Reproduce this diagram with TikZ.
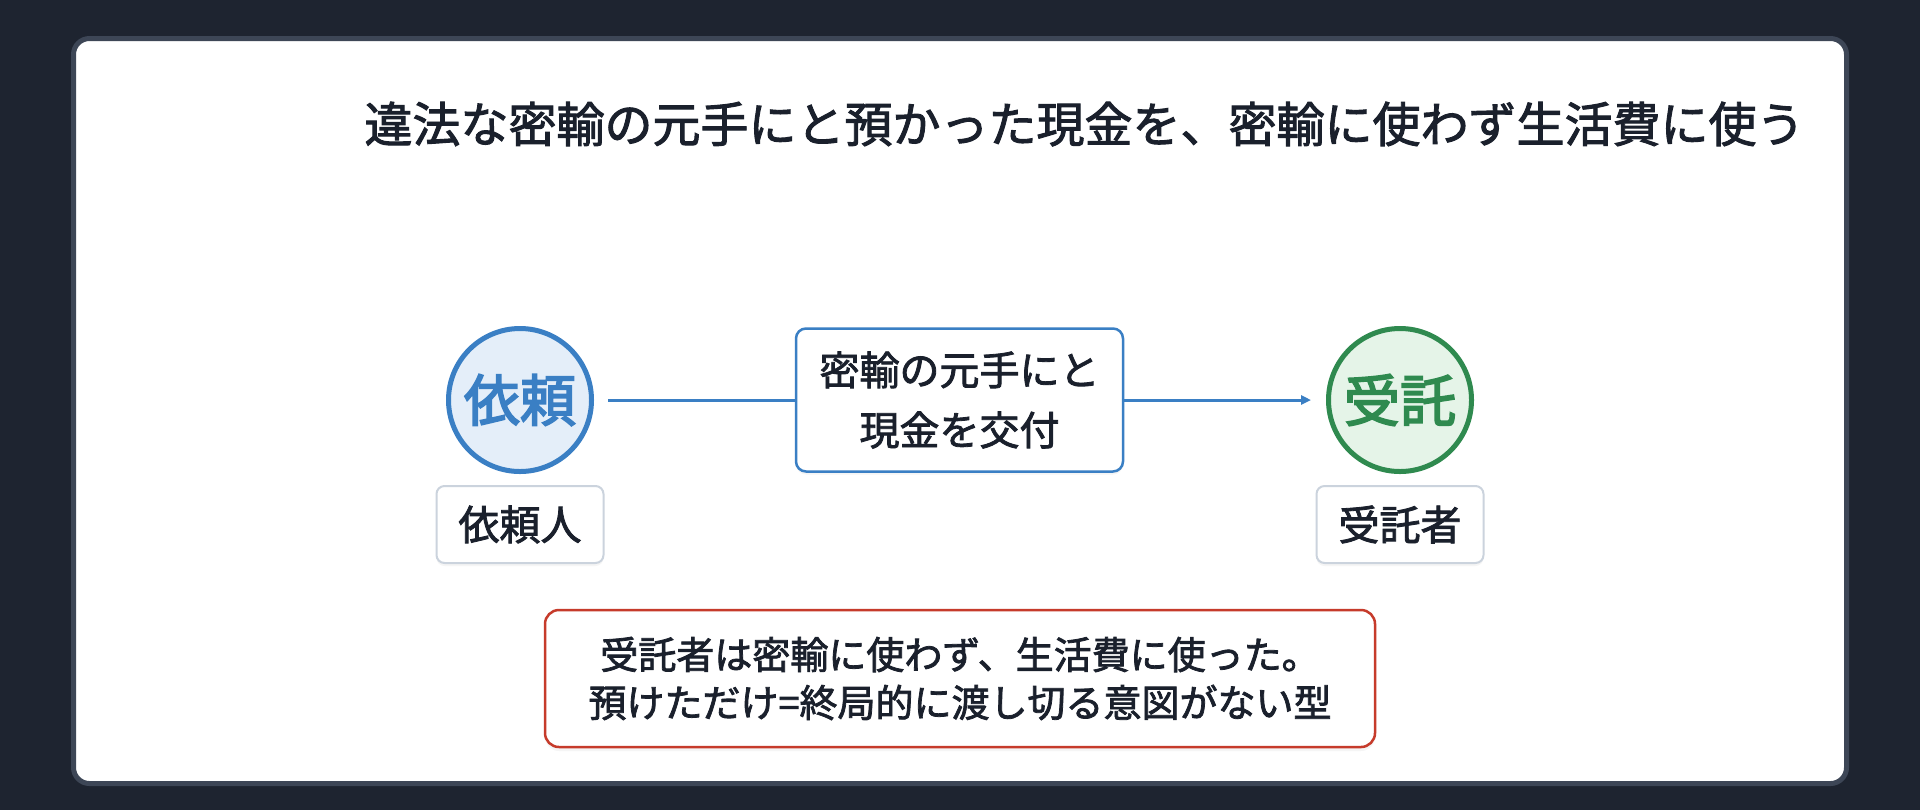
\documentclass[tikz,border=0pt]{standalone}
\usepackage{fontspec}
\setmainfont{Noto Sans CJK JP}[FakeBold=2]
\newfontfamily\partyfont{Noto Sans CJK JP}[FakeBold=3]
\usepackage{xcolor}
\usepackage{tikz}
\usetikzlibrary{arrows.meta,positioning,shadows}

\definecolor{bgdark}{HTML}{1E2430}
\definecolor{cardline}{HTML}{3D4656}
\definecolor{inkdark}{HTML}{1A202C}
\definecolor{clientblue}{HTML}{3A7FC4}
\definecolor{clientfill}{HTML}{E4EEF9}
\definecolor{trustgreen}{HTML}{2F8A4F}
\definecolor{trustfill}{HTML}{E5F4E8}
\definecolor{notered}{HTML}{C63B2B}
\definecolor{tagline}{HTML}{CBD3DD}

\begin{document}
\begin{tikzpicture}[x=0.5pt,y=-0.5pt,
	party/.style={circle,line width=2.5pt,minimum size=71.5pt,inner sep=0pt,
		font=\partyfont\fontsize{28}{30}\selectfont},
	tag/.style={draw=tagline,line width=1pt,fill=white,rounded corners=4pt,
		minimum width=83.5pt,minimum height=38.5pt,text=inkdark,
		font=\fontsize{20.5}{24}\selectfont,
		drop shadow={opacity=0.08,shadow xshift=0pt,shadow yshift=-1.5pt}},
	flow/.style={clientblue,line width=1.5pt}]
	% Draw background and card
	\fill[bgdark] (0,0) rectangle (1920,810);
	\draw[cardline,line width=2.5pt,fill=white,rounded corners=8pt]
	(73.5,38.5) rectangle (1846.5,783.5);
	% Title
	\node (title) at (1084.5,124) [text=inkdark,font=\fontsize{24}{28}\selectfont]
	{違法な密輸の元手にと預かった現金を、密輸に使わず生活費に使う};
	% The two parties
	\node (client) at (520,400) [party,draw=clientblue,fill=clientfill,text=clientblue] {依頼};
	\node (trustee) at (1400,400) [party,draw=trustgreen,fill=trustfill,text=trustgreen] {受託};
	\node (clienttag) at (520,524.5) [tag] {依頼人};
	\node (trusteetag) at (1400,524.5) [tag] {受託者};
	% What is handed over
	\node (handover) at (959.5,400) [draw=clientblue,line width=1.25pt,fill=white,
		rounded corners=5pt,minimum width=163.5pt,minimum height=71.5pt,
		align=center,text=inkdark,font=\fontsize{20}{30}\selectfont,
		drop shadow={opacity=0.08,shadow xshift=0pt,shadow yshift=-1.5pt}]
	{密輸の元手にと\\現金を交付};
	\draw[flow,shorten <=7pt] (client) -- (handover);
	\draw[flow,-{Triangle[length=5pt,width=4.5pt]},shorten >=7.5pt] (handover) -- (trustee);
	% Note on the outcome
	\node (note) at (960,678.5) [draw=notered,line width=1.25pt,fill=white,
		rounded corners=7pt,minimum width=415pt,minimum height=68.5pt,
		align=center,text=inkdark,font=\fontsize{19}{24}\selectfont,
		drop shadow={opacity=0.08,shadow xshift=0pt,shadow yshift=-2pt}]
	{受託者は密輸に使わず、生活費に使った。\\預けただけ=終局的に渡し切る意図がない型};
\end{tikzpicture}
\end{document}
